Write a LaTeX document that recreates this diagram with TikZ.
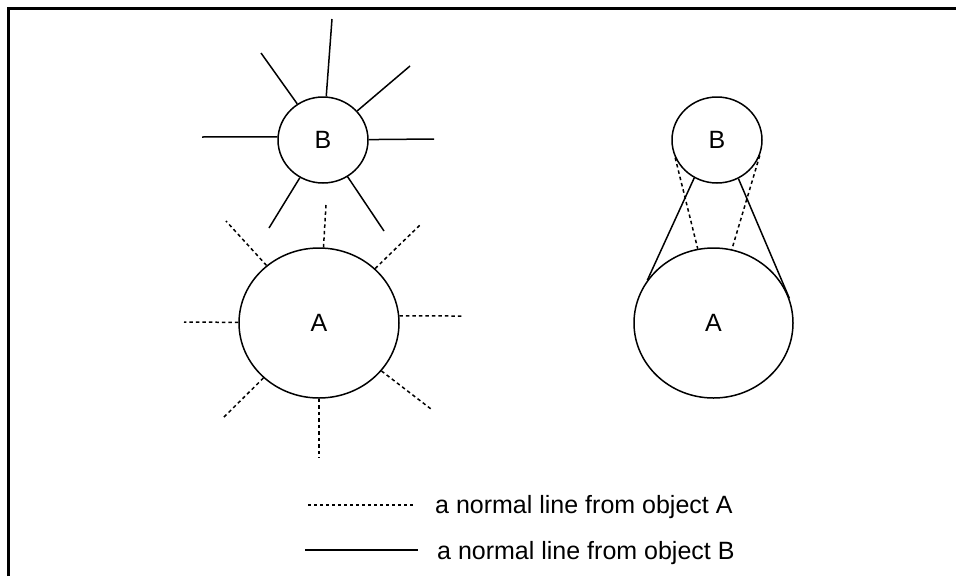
\documentclass[tikz,border=0pt]{standalone}
\usepackage{fontspec}
\setmainfont{Liberation Sans}
\usetikzlibrary{shapes.geometric}
\begin{document}
\begin{tikzpicture}[x=1pt,y=-1pt,
  txt/.style={font=\fontsize{25}{30}\selectfont},
  obj/.style={draw, line width=1.5pt, ellipse, inner sep=0pt, txt},
  solidray/.style={line width=1.5pt},
  dashray/.style={line width=1.5pt, dash pattern=on 3.5pt off 3pt},
  legtext/.style={txt, anchor=base west, inner sep=0pt},
]
\useasboundingbox (0,0) rectangle (956,576);
\draw[line width=3pt] (8,576) -- (8,8) -- (956,8);

% left group
\node[obj, minimum width=90pt, minimum height=86pt] (B1) at (323,140) {B};
\node[obj, minimum width=160pt, minimum height=150pt] (A1) at (319,323) {A};

\coordinate (b1) at (332,19);
\coordinate (b2) at (261,53);
\coordinate (b3) at (410,66);
\coordinate (b4) at (202,137);
\coordinate (b5) at (434,139);
\coordinate (b6) at (269,228);
\coordinate (b7) at (384,231);
\foreach \e in {b1,b2,b3,b5,b6,b7} \draw[solidray] (B1) -- (\e);
\draw[solidray] (B1.176) -- (b4);

\coordinate (a1) at (326,205);
\coordinate (a2) at (226,221);
\coordinate (a3) at (420,225);
\coordinate (a4) at (184,322);
\coordinate (a5) at (462,316);
\coordinate (a6) at (222,419);
\coordinate (a7) at (431,409);
\coordinate (a8) at (319,458);
\foreach \e in {a1,a2,a3,a4,a6,a7,a8} \draw[dashray] (A1) -- (\e);
\draw[dashray] (A1.5) -- (a5);

% right group
\node[obj, minimum width=90pt, minimum height=86pt] (B2) at (717,140) {B};
\node[obj, minimum width=159pt, minimum height=150pt] (A2) at (713.5,323) {A};

\draw[solidray] (B2.239.5) -- (A2.147);
\draw[solidray] (B2.299.6) -- (A2.18.8);
\draw[dashray] (B2.203) -- (A2.102);
\draw[dashray] (B2.340) -- (A2.76);

% legend
\coordinate (la1) at (308,505);
\coordinate (la2) at (415,505);
\draw[line width=1.2pt, dash pattern=on 3pt off 3pt] (la1) -- (la2);
\node[legtext] (ta) at (435,513) {a normal line from object A};
\coordinate (lb1) at (305,550);
\coordinate (lb2) at (418,550);
\draw[line width=1.6pt] (lb1) -- (lb2);
\node[legtext] (tb) at (437,559) {a normal line from object B};
\end{tikzpicture}
\end{document}
